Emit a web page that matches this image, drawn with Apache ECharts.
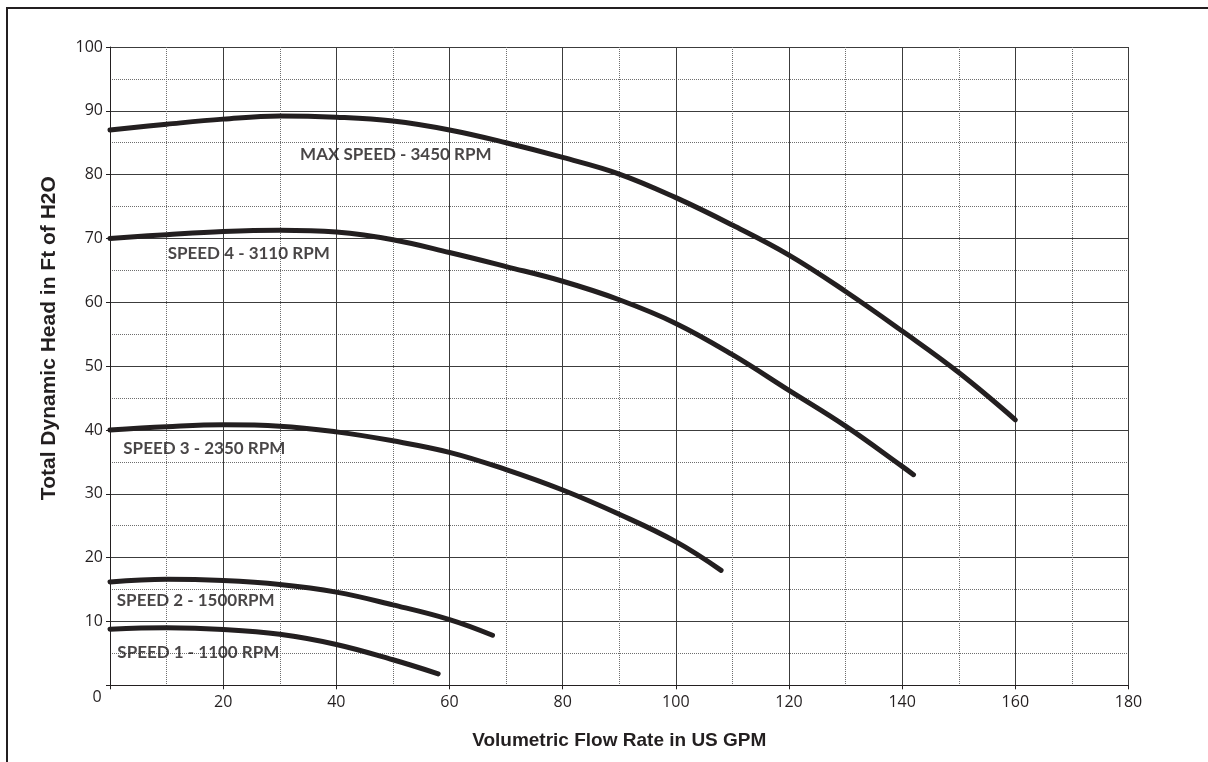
<!DOCTYPE html>
<html>
<head>
<meta charset="utf-8">
<script src="https://cdn.jsdelivr.net/npm/echarts@6/dist/echarts.min.js"></script>
<style>
html,body{margin:0;padding:0;background:#fff;}
#chart{width:1208px;height:762px;}
</style>
</head>
<body>
<div id="chart"></div>
<script>
// Data (flow in US GPM, head in ft of H2O)
const xTickValues = [0, 20, 40, 60, 80, 100, 120, 140, 160, 180];
const yTickValues = [0, 10, 20, 30, 40, 50, 60, 70, 80, 90, 100];

const maxFlow = [0, 10, 20, 30, 40, 50, 60, 70, 80, 90, 100, 110, 120, 130, 140, 150, 160];
const maxHead = [87.0, 87.9, 88.7, 89.2, 89.0, 88.4, 87.0, 85.0, 82.7, 80.1, 76.4, 72.1, 67.4, 61.7, 55.5, 49.0, 41.6];

const s4Flow = [0, 10, 20, 30, 40, 50, 60, 70, 80, 90, 100, 110, 120, 130, 140, 142];
const s4Head = [70.0, 70.6, 71.1, 71.3, 71.0, 69.8, 67.8, 65.6, 63.3, 60.4, 56.7, 51.8, 46.2, 40.6, 34.3, 33.0];

const s3Flow = [0, 10, 20, 30, 40, 50, 60, 70, 80, 90, 100, 108];
const s3Head = [40.0, 40.5, 40.8, 40.6, 39.7, 38.3, 36.5, 33.8, 30.6, 26.8, 22.5, 18.0];

const s2Flow = [0, 10, 20, 30, 40, 50, 60, 67.6];
const s2Head = [16.2, 16.6, 16.4, 15.8, 14.6, 12.6, 10.3, 7.85];

const s1Flow = [0, 10, 20, 30, 40, 50, 58];
const s1Head = [8.8, 9.0, 8.75, 8.0, 6.4, 4.0, 1.8];

const curveNames = ['MAX SPEED - 3450 RPM', 'SPEED 4 - 3110 RPM', 'SPEED 3 - 2350 RPM', 'SPEED 2 - 1500RPM', 'SPEED 1 - 1100 RPM'];
const labelFlow = [33.6, 10.2, 2.35, 1.2, 1.3];
const labelHead = [83.2, 67.6, 37.05, 13.3, 5.1];

const xTitle = 'Volumetric Flow Rate in US GPM';
const yTitle = 'Total Dynamic Head in Ft of H2O';

function pairs(xs, ys) { return xs.map((x, i) => [x, ys[i]]); }

const ink = '#231f20';
const curves = [[maxFlow, maxHead], [s4Flow, s4Head], [s3Flow, s3Head], [s2Flow, s2Head], [s1Flow, s1Head]];

const series = curves.map((c, i) => ({
  type: 'line',
  name: curveNames[i],
  data: pairs(c[0], c[1]),
  smooth: 0.4,
  showSymbol: false,
  symbol: 'none',
  lineStyle: { color: ink, width: 5, cap: 'round' },
  z: 3,
  silent: true
}));

series.push({
  type: 'scatter',
  symbolSize: 0,
  silent: true,
  z: 4,
  data: labelFlow.map((x, i) => ({ value: [x, labelHead[i]], name: curveNames[i] })),
  label: {
    show: true,
    position: 'right',
    distance: 0,
    formatter: p => p.name,
    fontFamily: 'Lato',
    fontWeight: 'bold',
    fontSize: 17,
    color: '#1a1718'
  }
});

const chart = echarts.init(document.getElementById('chart'), null, { renderer: 'canvas' });
chart.setOption({
  animation: false,
  backgroundColor: '#ffffff',
  grid: { left: 110, top: 47, right: 79.5, bottom: 76.7, containLabel: false },
  graphic: [{
    type: 'rect',
    shape: { x: 7, y: 8, width: 1400, height: 1000 },
    style: { fill: 'none', stroke: '#231f20', lineWidth: 2 },
    silent: true
  }],
  xAxis: {
    type: 'value',
    min: xTickValues[0],
    max: xTickValues[xTickValues.length - 1],
    interval: 20,
    name: xTitle,
    nameLocation: 'middle',
    nameGap: 46,
    nameTextStyle: { fontFamily: 'Liberation Sans', fontWeight: 'bold', fontSize: 19, color: ink },
    axisLine: { show: true, lineStyle: { color: ink, width: 1 } },
    axisTick: { show: true, inside: false, length: 4, lineStyle: { color: ink } },
    axisLabel: {
      margin: 9,
      fontFamily: 'Open Sans',
      fontSize: 16,
      color: ink,
      formatter: v => v === 0 ? '{z|0}' : String(v),
      rich: { z: { fontFamily: 'Open Sans', fontSize: 16, color: ink, padding: [0, 26, 0, 0], lineHeight: 6 } }
    },
    splitLine: { show: true, lineStyle: { color: '#3c3c3c', width: 1 } },
    minorTick: { show: false, splitNumber: 2 },
    minorSplitLine: { show: true, lineStyle: { color: '#6e6e6e', width: 1, type: [1, 1] } }
  },
  yAxis: {
    type: 'value',
    min: yTickValues[0],
    max: yTickValues[yTickValues.length - 1],
    interval: 10,
    name: yTitle,
    nameLocation: 'middle',
    nameGap: 50,
    nameRotate: 90,
    nameTextStyle: { fontFamily: 'Liberation Sans', fontWeight: 'bold', fontSize: 21, color: ink, padding: [0, 0, 0, 56] },
    axisLine: { show: true, lineStyle: { color: ink, width: 1 } },
    axisTick: { show: true, inside: false, length: 4, lineStyle: { color: ink } },
    axisLabel: {
      margin: 7,
      fontFamily: 'Open Sans',
      fontSize: 16,
      color: ink,
      formatter: v => v === 0 ? '' : String(v)
    },
    splitLine: { show: true, lineStyle: { color: '#3c3c3c', width: 1 } },
    minorTick: { show: false, splitNumber: 2 },
    minorSplitLine: { show: true, lineStyle: { color: '#6e6e6e', width: 1, type: [1, 1] } }
  },
  series: series
});
</script>
</body>
</html>
